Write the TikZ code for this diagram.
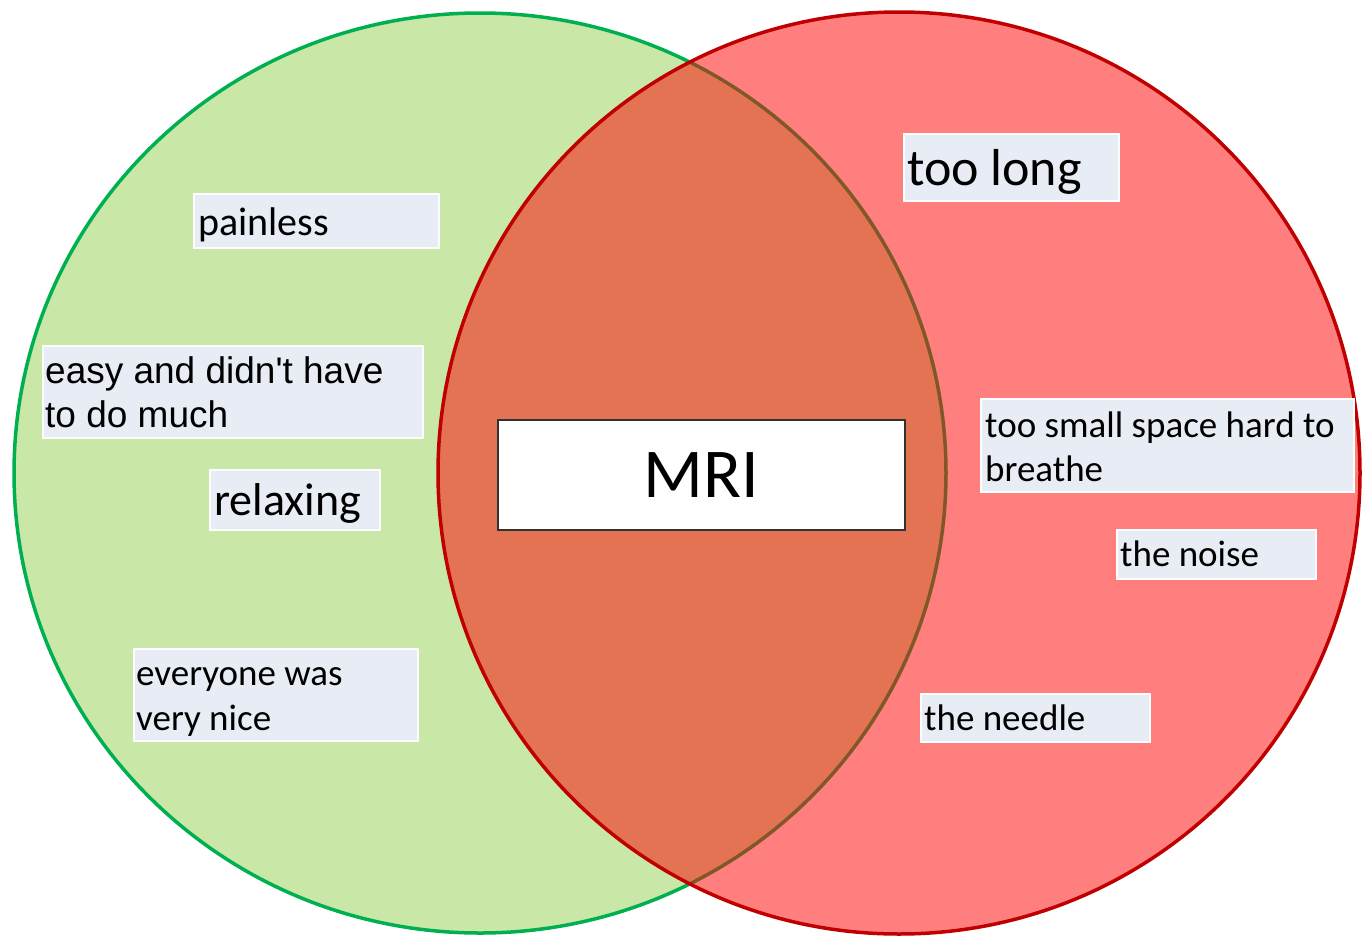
\documentclass[tikz,border=0pt]{standalone}
\usepackage{fontspec}
\newfontfamily\calfont{Carlito}
\newfontfamily\arifont{Liberation Sans}
\definecolor{gfill}{RGB}{201,231,167}
\definecolor{gline}{RGB}{0,176,80}
\definecolor{rline}{RGB}{192,0,0}
\definecolor{boxfill}{RGB}{232,236,244}
\definecolor{mriline}{RGB}{50,50,50}
\newcommand\twoln[2]{\vtop{\hbox{#1}\hbox{#2}}}
\tikzset{
  tbox/.style={draw=white, fill=boxfill, line width=1.5pt, anchor=north west, inner sep=0pt},
  ttext/.style={anchor=base west, inner sep=0pt, text=black},
}
\begin{document}
\begin{tikzpicture}[x=1pt,y=-1pt]
\useasboundingbox (0,0) rectangle (1363,937);
% circles
\fill[gfill] (480,473) ellipse [x radius=466pt, y radius=460pt];
\draw[gline, line width=3.5pt] (480,473) ellipse [x radius=466pt, y radius=460pt];
\fill[red, fill opacity=0.5] (899,473) circle [radius=461pt];
\draw[rline, line width=3.5pt] (899,473) circle [radius=461pt];
% left boxes
\node[tbox, minimum width=245pt, minimum height=54pt] (bpain) at (193,193) {};
\node[ttext] (tpain) at (198,235) {\calfont\fontsize{40}{48}\selectfont painless};
\node[tbox, minimum width=380pt, minimum height=92pt] (beasy) at (42,345) {};
\node[ttext] (teasy) at (45,383) {\arifont\fontsize{37}{44}\selectfont\twoln{easy and didn't have}{to do much}};
\node[tbox, minimum width=170pt, minimum height=60pt] (brelax) at (209,469) {};
\node[ttext] (trelax) at (214,515) {\calfont\fontsize{46}{55}\selectfont relaxing};
\node[tbox, minimum width=284pt, minimum height=92pt] (bevery) at (133,648) {};
\node[ttext] (tevery) at (136,685) {\calfont\fontsize{37}{45}\selectfont\twoln{everyone was}{very nice}};
% right boxes
\node[tbox, minimum width=215pt, minimum height=67pt] (blong) at (903,133) {};
\node[ttext] (tlong) at (907,185) {\calfont\fontsize{52}{62}\selectfont too long};
\node[tbox, minimum width=373pt, minimum height=93pt] (bsmall) at (980,398) {};
\node[ttext] (tsmall) at (985,437) {\calfont\fontsize{37}{44}\selectfont\twoln{too small space hard to}{breathe}};
\node[tbox, minimum width=199pt, minimum height=49pt] (bnoise) at (1116,529) {};
\node[ttext] (tnoise) at (1120,566) {\calfont\fontsize{37}{44}\selectfont the noise};
\node[tbox, minimum width=229pt, minimum height=48pt] (bneedle) at (920,693) {};
\node[ttext] (tneedle) at (924,730) {\calfont\fontsize{37}{44}\selectfont the needle};
% centre
\node[draw=mriline, fill=white, line width=2pt, minimum width=407pt, minimum height=110pt, inner sep=0pt] (mri) at (701,475) {\calfont\fontsize{70}{84}\selectfont MRI};
\end{tikzpicture}
\end{document}
